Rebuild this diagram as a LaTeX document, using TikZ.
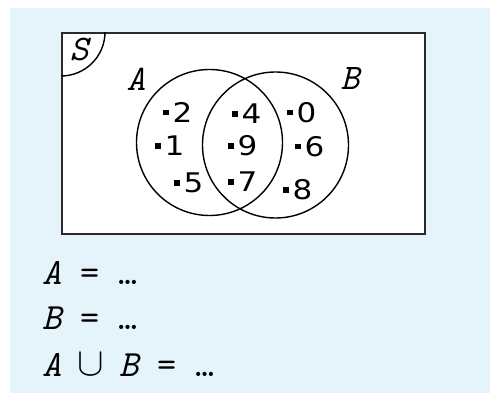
\documentclass[tikz,border=0pt]{standalone}
\usepackage{fontspec}
\usepackage{graphicx}
\newfontfamily\digfont{DejaVu Sans}
\definecolor{bgblue}{HTML}{E5F3FA}
\definecolor{frame}{HTML}{2A2A2A}
\tikzset{
  elem/.style={inner sep=0pt, anchor=west, font=\digfont\fontsize{27}{27}\selectfont},
  setlbl/.style={inner sep=0pt, font=\ttfamily\itshape\fontsize{36}{36}\selectfont},
  eqline/.style={inner sep=0pt, anchor=base west, font=\ttfamily\fontsize{37}{37}\selectfont},
  venn/.style={draw=black, line width=1.4pt},
}
\newcommand{\elm}[1]{\rule[7pt]{5.5pt}{5.5pt}\hspace{4pt}\scalebox{1.15}[1]{#1}}
\begin{document}
\begin{tikzpicture}[x=1pt,y=-1pt]
\useasboundingbox (0,0) rectangle (490,393);
\fill[bgblue] (10,8) rectangle (490,393);
\node[draw=frame, fill=white, line width=2pt, minimum width=363pt, minimum height=201pt, inner sep=0pt, anchor=north west] (S) at (61,32) {};
\draw[venn] (S.north west) ++(44,0) coordinate (sA) arc[start angle=0, end angle=90, radius=44];
\node[setlbl] (Slbl) at (79,50) {S};
\node[venn, circle, minimum size=146pt, inner sep=0pt] (A) at (209.5,142.5) {};
\node[venn, circle, minimum size=146pt, inner sep=0pt] (B) at (275.5,145) {};
\node[setlbl] (Albl) at (136,79) {A};
\node[setlbl] (Blbl) at (350,79) {B};
\node[elem] (e2) at (163,112) {\elm{2}};
\node[elem] (e1) at (155,146) {\elm{1}};
\node[elem] (e5) at (174,183) {\elm{5}};
\node[elem] (e4) at (232,114) {\elm{4}};
\node[elem] (e9) at (228,146) {\elm{9}};
\node[elem] (e7) at (228,182) {\elm{7}};
\node[elem] (e0) at (287,112.5) {\elm{0}};
\node[elem] (e6) at (295,146.5) {\elm{6}};
\node[elem] (e8) at (283,190) {\elm{8}};
\node[eqline] (l1) at (42,284) {\itshape A\upshape{} = \ldots};
\node[eqline] (l2) at (42,329) {\itshape B\upshape{} = \ldots};
\node[eqline] (l3) at (42,376) {\itshape A\upshape{} \makebox[0.525em][c]{\raisebox{0.02em}{\scalebox{1.6}{$\cup$}}} \itshape B\upshape{} = \ldots};
\end{tikzpicture}
\end{document}
